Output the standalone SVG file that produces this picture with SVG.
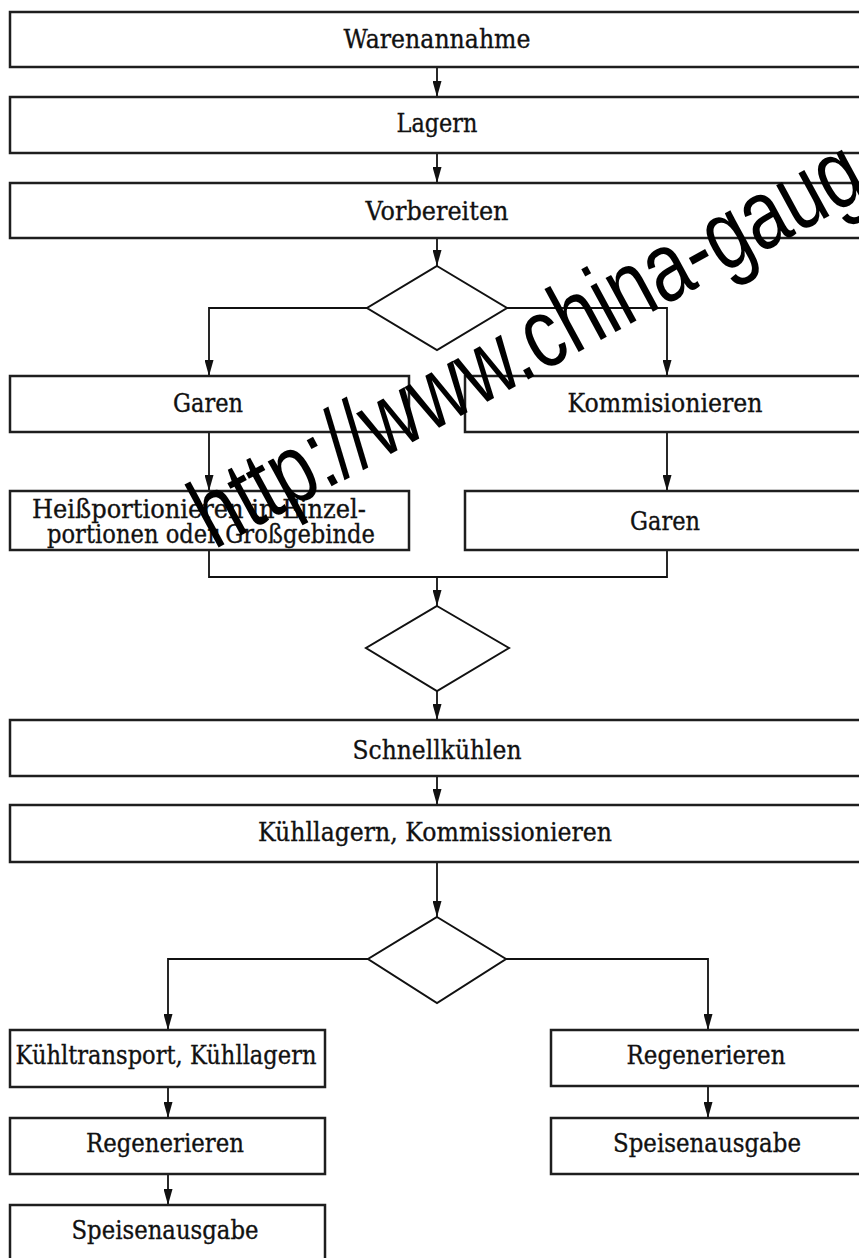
<svg xmlns="http://www.w3.org/2000/svg" width="859" height="1258" viewBox="0 0 859 1258">
<style>
.box{fill:#fff;stroke:#1e1e1e;stroke-width:2.5}
.dia{fill:#fff;stroke:#111;stroke-width:2}
.lbl{font-family:"DejaVu Serif","Liberation Serif",serif;font-size:26px;fill:#111;stroke:#111;stroke-width:0.35}
.mid{text-anchor:middle}
.con{fill:none;stroke:#111;stroke-width:1.8}
.wm{font-family:"Liberation Sans",Arial,sans-serif;font-size:76px;fill:#000}
</style>
<defs>
<marker id="ah" viewBox="0 0 16 9" refX="16" refY="4.5" markerWidth="16" markerHeight="9" markerUnits="userSpaceOnUse" orient="auto">
<path d="M0,0 L16,4.5 L0,9 z" fill="#111"/>
</marker>
</defs>
<rect width="859" height="1258" fill="#fff"/>

<g id="connectors">
<path class="con" d="M437,67 V97" marker-end="url(#ah)"/>
<path class="con" d="M437,153 V183" marker-end="url(#ah)"/>
<path class="con" d="M437,238 V266" marker-end="url(#ah)"/>
<path class="con" d="M367,308 H209 V376" marker-end="url(#ah)"/>
<path class="con" d="M507,308 H667 V376" marker-end="url(#ah)"/>
<path class="con" d="M209,432 V491" marker-end="url(#ah)"/>
<path class="con" d="M667,432 V491" marker-end="url(#ah)"/>
<path class="con" d="M209,550 V577 H667 V550"/>
<path class="con" d="M437,577 V606" marker-end="url(#ah)"/>
<path class="con" d="M437,691 V720" marker-end="url(#ah)"/>
<path class="con" d="M437,776 V805" marker-end="url(#ah)"/>
<path class="con" d="M437,862 V917" marker-end="url(#ah)"/>
<path class="con" d="M368,959 H168 V1030" marker-end="url(#ah)"/>
<path class="con" d="M506,959 H708 V1030" marker-end="url(#ah)"/>
<path class="con" d="M168,1087 V1118" marker-end="url(#ah)"/>
<path class="con" d="M168,1174 V1205" marker-end="url(#ah)"/>
<path class="con" d="M708,1086 V1118" marker-end="url(#ah)"/>
</g>

<g id="n-warenannahme"><rect class="box" x="10" y="12" width="870" height="55"/><text class="lbl mid" x="437" y="48" textLength="187" lengthAdjust="spacingAndGlyphs">Warenannahme</text></g>
<g id="n-lagern"><rect class="box" x="10" y="97" width="870" height="56"/><text class="lbl mid" x="437" y="132" textLength="81" lengthAdjust="spacingAndGlyphs">Lagern</text></g>
<g id="n-vorbereiten"><rect class="box" x="10" y="183" width="870" height="55"/><text class="lbl mid" x="437" y="220" textLength="143" lengthAdjust="spacingAndGlyphs">Vorbereiten</text></g>
<g id="n-d1"><path class="dia" d="M437,266 L507,308 L437,350 L367,308 Z"/></g>
<g id="n-garen1"><rect class="box" x="10" y="376" width="399" height="56"/><text class="lbl mid" x="208" y="412" textLength="70" lengthAdjust="spacingAndGlyphs">Garen</text></g>
<g id="n-kommisionieren"><rect class="box" x="465" y="376" width="420" height="56"/><text class="lbl mid" x="665" y="412" textLength="195" lengthAdjust="spacingAndGlyphs">Kommisionieren</text></g>
<g id="n-heiss"><rect class="box" x="10" y="491" width="399" height="59"/><text class="lbl" x="32" y="518" textLength="334" lengthAdjust="spacingAndGlyphs">Heißportionieren in Einzel-</text><text class="lbl" x="47" y="543" textLength="328" lengthAdjust="spacingAndGlyphs">portionen oder Großgebinde</text></g>
<g id="n-garen2"><rect class="box" x="465" y="491" width="420" height="59"/><text class="lbl mid" x="665" y="530" textLength="70" lengthAdjust="spacingAndGlyphs">Garen</text></g>
<g id="n-d2"><path class="dia" d="M437,606 L509,648 L437,691 L366,648 Z"/></g>
<g id="n-schnell"><rect class="box" x="10" y="720" width="870" height="56"/><text class="lbl mid" x="437" y="759" textLength="169" lengthAdjust="spacingAndGlyphs">Schnellkühlen</text></g>
<g id="n-kuehllagern"><rect class="box" x="10" y="805" width="870" height="57"/><text class="lbl mid" x="435" y="841" textLength="354" lengthAdjust="spacingAndGlyphs">Kühllagern, Kommissionieren</text></g>
<g id="n-d3"><path class="dia" d="M437,917 L506,959 L437,1003 L368,959 Z"/></g>
<g id="n-kuehltransport"><rect class="box" x="10" y="1030" width="315" height="57"/><text class="lbl mid" x="166" y="1064" textLength="301" lengthAdjust="spacingAndGlyphs">Kühltransport, Kühllagern</text></g>
<g id="n-regen1"><rect class="box" x="10" y="1118" width="315" height="56"/><text class="lbl mid" x="165" y="1152" textLength="158" lengthAdjust="spacingAndGlyphs">Regenerieren</text></g>
<g id="n-speisen1"><rect class="box" x="10" y="1205" width="315" height="60"/><text class="lbl mid" x="165" y="1239" textLength="187" lengthAdjust="spacingAndGlyphs">Speisenausgabe</text></g>
<g id="n-regen2"><rect class="box" x="551" y="1030" width="330" height="56"/><text class="lbl mid" x="706" y="1064" textLength="159" lengthAdjust="spacingAndGlyphs">Regenerieren</text></g>
<g id="n-speisen2"><rect class="box" x="551" y="1118" width="330" height="56"/><text class="lbl mid" x="707" y="1152" textLength="188" lengthAdjust="spacingAndGlyphs">Speisenausgabe</text></g>

<g id="watermark"><text class="wm" transform="translate(214,550) rotate(-28.5) scale(1,1.3)">http://www.china-gaug</text></g>
</svg>
